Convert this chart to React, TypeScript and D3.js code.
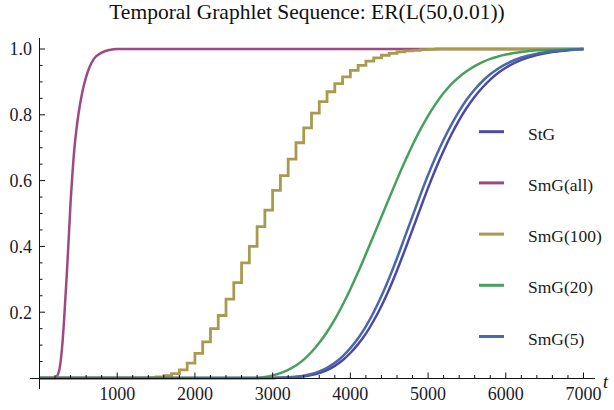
import React, { useEffect, useRef } from 'react';
import * as d3 from 'd3';

// sampled read-off of the five curves
const smoothTimes = [0, 2800, 2900, 3000, 3100, 3200, 3300, 3400, 3500, 3600, 3700, 3800, 3900, 4000, 4100, 4200, 4300, 4400, 4500, 4600, 4700, 4800, 4900, 5000, 5100, 5200, 5300, 5400, 5500, 5600, 5700, 5800, 5900, 6000, 6200, 6400, 6600, 6800, 7000];
const stgValues = [0, 0, 0, 0, 0.001, 0.001, 0.003, 0.005, 0.009, 0.015, 0.024, 0.037, 0.054, 0.076, 0.103, 0.135, 0.174, 0.219, 0.27, 0.327, 0.388, 0.451, 0.515, 0.578, 0.637, 0.691, 0.74, 0.784, 0.822, 0.855, 0.883, 0.907, 0.927, 0.943, 0.967, 0.982, 0.991, 0.996, 1];
const smg20Values = [0, 0, 0.003, 0.008, 0.015, 0.025, 0.038, 0.056, 0.079, 0.107, 0.14, 0.178, 0.222, 0.27, 0.322, 0.377, 0.433, 0.49, 0.547, 0.603, 0.657, 0.708, 0.755, 0.797, 0.834, 0.866, 0.893, 0.915, 0.933, 0.948, 0.96, 0.97, 0.977, 0.983, 0.991, 0.996, 0.998, 0.999, 1];
const smg5Values = [0, 0, 0, 0, 0.001, 0.002, 0.004, 0.007, 0.012, 0.02, 0.031, 0.046, 0.066, 0.091, 0.121, 0.157, 0.2, 0.249, 0.304, 0.364, 0.428, 0.492, 0.556, 0.617, 0.673, 0.724, 0.77, 0.811, 0.847, 0.877, 0.902, 0.923, 0.94, 0.954, 0.974, 0.986, 0.993, 0.997, 1];

const allTimes = [0, 200, 250, 300, 325, 350, 375, 400, 425, 450, 475, 500, 550, 600, 650, 700, 800, 900, 1000, 7000];
const allValues = [0, 0, 0.02, 0.12, 0.21, 0.31, 0.42, 0.535, 0.625, 0.7, 0.755, 0.8, 0.868, 0.915, 0.948, 0.97, 0.989, 0.997, 1, 1];

const stepTimes = [0, 1400, 1500, 1600, 1700, 1800, 1900, 2000, 2100, 2200, 2300, 2400, 2500, 2600, 2700, 2800, 2900, 3000, 3100, 3200, 3300, 3400, 3500, 3600, 3700, 3800, 3900, 4000, 4100, 4200, 4300, 4400, 4500, 4600, 4700, 4800, 4900, 5000, 5100, 7000];
const smg100Values = [0, 0.001, 0.003, 0.007, 0.013, 0.025, 0.045, 0.075, 0.11, 0.15, 0.19, 0.24, 0.29, 0.35, 0.4, 0.46, 0.51, 0.57, 0.615, 0.665, 0.715, 0.76, 0.805, 0.84, 0.87, 0.895, 0.915, 0.935, 0.95, 0.963, 0.973, 0.981, 0.987, 0.991, 0.994, 0.996, 0.998, 0.999, 1, 1];

const seriesNames = ['StG', 'SmG(all)', 'SmG(100)', 'SmG(20)', 'SmG(5)'];
const seriesColors = ['#4a4aa6', '#9e4a82', '#a89a4e', '#48a05e', '#4a67aa'];

const xMajorTicks = [1000, 2000, 3000, 4000, 5000, 6000, 7000];
const yMajorTicks = [0.2, 0.4, 0.6, 0.8, 1.0];

const FONT = "'Liberation Serif', 'DejaVu Serif', Tinos, 'Times New Roman', serif";

export default function App() {
  const ref = useRef<SVGSVGElement>(null);

  useEffect(() => {
    document.body.style.margin = '0';
    if (!ref.current) return;
    const svg = d3.select(ref.current);
    svg.selectAll('*').remove();

    const x = d3.scaleLinear().domain([0, 7000]).range([39.5, 583.5]);
    const y = d3.scaleLinear().domain([0, 1]).range([378, 49]);

    const series = [
      { t: smoothTimes, v: stgValues, curve: d3.curveMonotoneX },
      { t: allTimes, v: allValues, curve: d3.curveMonotoneX },
      { t: stepTimes, v: smg100Values, curve: d3.curveStepAfter },
      { t: smoothTimes, v: smg20Values, curve: d3.curveMonotoneX },
      { t: smoothTimes, v: smg5Values, curve: d3.curveMonotoneX },
    ];

    // title
    svg.append('text')
      .attr('x', 307).attr('y', 19)
      .attr('text-anchor', 'middle')
      .style('font-family', FONT).attr('font-size', 21.5)
      .attr('fill', '#111')
      .text('Temporal Graphlet Sequence: ER(L(50,0.01))');

    // lines
    series.forEach((s, i) => {
      const pts = s.t.map((t, j) => [t, s.v[j]] as [number, number]);
      const line = d3.line<[number, number]>()
        .x(d => x(d[0]))
        .y(d => y(d[1]))
        .curve(s.curve);
      svg.append('path')
        .datum(pts)
        .attr('fill', 'none')
        .attr('stroke', seriesColors[i])
        .attr('stroke-width', i === 2 ? 2.8 : 2.5)
        .attr('stroke-linejoin', i === 2 ? 'miter' : 'round')
        .attr('d', line);
    });

    // axes
    const axes = svg.append('g').attr('stroke', '#111').attr('stroke-width', 1);
    axes.append('line').attr('x1', 30).attr('x2', 595).attr('y1', y(0) + 0.5).attr('y2', y(0) + 0.5);
    axes.append('line').attr('x1', x(0)).attr('x2', x(0)).attr('y1', 389).attr('y2', 38);

    const xMinor = d3.range(200, 7001, 200).filter(t => t % 1000 !== 0);
    xMinor.forEach(t => {
      axes.append('line').attr('x1', x(t)).attr('x2', x(t)).attr('y1', y(0)).attr('y2', y(0) - 3);
    });
    xMajorTicks.forEach(t => {
      axes.append('line').attr('x1', x(t)).attr('x2', x(t)).attr('y1', y(0)).attr('y2', y(0) - 5.5);
      svg.append('text')
        .attr('x', x(t)).attr('y', 400)
        .attr('text-anchor', 'middle')
        .style('font-family', FONT).attr('font-size', 18)
        .attr('fill', '#1a1a2a')
        .text(String(t));
    });

    const yMinor = d3.range(1, 20).map(k => k * 0.05).filter((_, k) => (k + 1) % 4 !== 0);
    yMinor.forEach(v => {
      axes.append('line').attr('x1', x(0)).attr('x2', x(0) + 3).attr('y1', y(v)).attr('y2', y(v));
    });
    yMajorTicks.forEach(v => {
      axes.append('line').attr('x1', x(0)).attr('x2', x(0) + 5.5).attr('y1', y(v)).attr('y2', y(v));
      svg.append('text')
        .attr('x', 32).attr('y', y(v))
        .attr('dy', '0.35em')
        .attr('text-anchor', 'end')
        .style('font-family', FONT).attr('font-size', 18)
        .attr('fill', '#1a1a2a')
        .text(v.toFixed(1));
    });

    svg.append('text')
      .attr('x', 603).attr('y', 388)
      .style('font-family', FONT).attr('font-size', 18)
      .attr('font-style', 'italic')
      .attr('fill', '#111')
      .text('t');

    // legend
    const legend = svg.append('g');
    seriesNames.forEach((name, i) => {
      const ly = 131.7 + i * 51.2;
      legend.append('line')
        .attr('x1', 479).attr('x2', 504)
        .attr('y1', ly).attr('y2', ly)
        .attr('stroke', seriesColors[i])
        .attr('stroke-width', 3);
      legend.append('text')
        .attr('x', 528).attr('y', ly + 8)
        .style('font-family', FONT).attr('font-size', 17.5)
        .attr('fill', '#1a1a1a')
        .text(name);
    });
  }, []);

  return <svg ref={ref} width={614} height={410} style={{ display: 'block', background: '#fff' }} />;
}
